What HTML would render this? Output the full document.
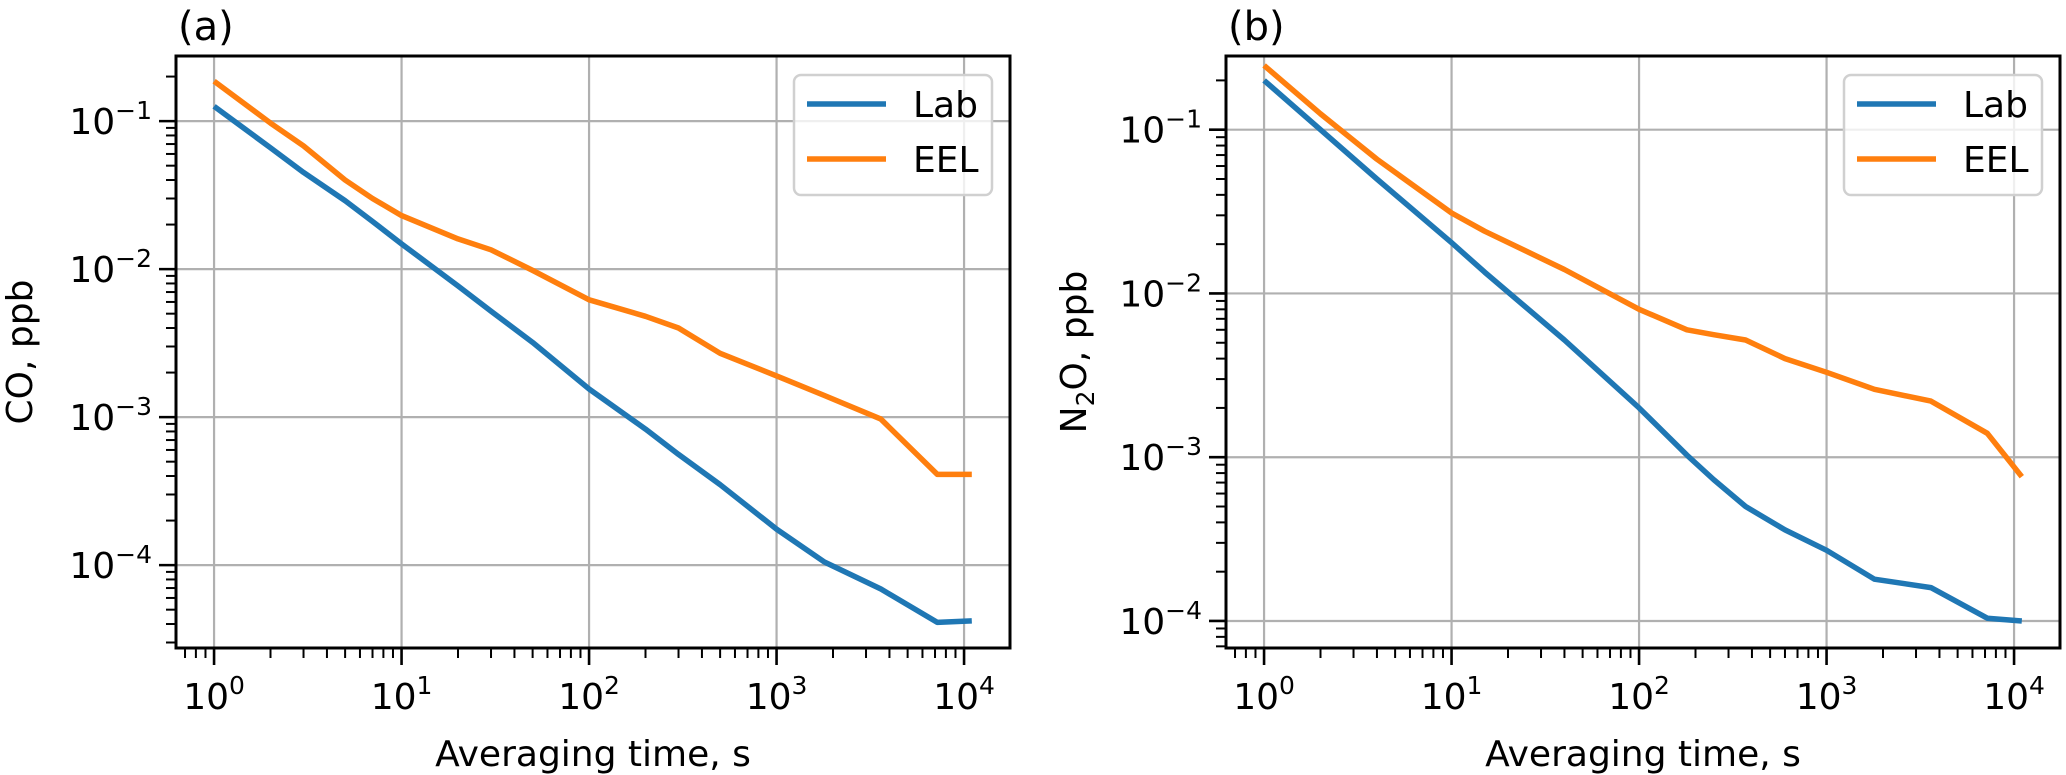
<!DOCTYPE html>
<html><head><meta charset="utf-8"><style>
html,body{margin:0;padding:0;background:#fff;}
svg{display:block;font-family:"DejaVu Sans","Liberation Sans",sans-serif;}
</style></head><body>
<svg id="fig" width="2066" height="775" viewBox="0 0 2066 775" xmlns="http://www.w3.org/2000/svg"></svg>
<script>
// Panel (a) CO data
const timesA = [1,2,3,5,7,10,20,30,50,100,200,300,500,1000,1800,3600,7200,11000];
const labA = [0.126,0.066,0.045,0.029,0.021,0.0148,0.0077,0.0052,0.0032,0.00155,0.00083,0.00056,0.00035,0.000175,0.000105,0.000069,0.000041,0.000042];
const eelA = [0.186,0.097,0.068,0.040,0.030,0.023,0.016,0.0135,0.0098,0.0062,0.0048,0.0040,0.0027,0.0019,0.0014,0.00097,0.00041,0.00041];
// Panel (b) N2O data
const timesB = [1,2,4,10,15,40,100,180,250,370,600,1000,1800,3600,7200,11000];
const labB = [0.2,0.1,0.05,0.0204,0.0135,0.0052,0.0020,0.00103,0.00073,0.00050,0.00036,0.00027,0.00018,0.00016,0.000104,0.0001];
const eelB = [0.247,0.125,0.066,0.031,0.024,0.014,0.0080,0.0060,0.0056,0.0052,0.0040,0.0033,0.0026,0.0022,0.0014,0.00076];
const xTickExps = [0,1,2,3,4];
const yTickExps = [-1,-2,-3,-4];
const seriesNames = ["Lab","EEL"];

const NS="http://www.w3.org/2000/svg";
const svg=document.getElementById('fig');
function mk(tag,attrs,parent){const e=document.createElementNS(NS,tag);for(const k in attrs)e.setAttribute(k,attrs[k]);(parent||svg).appendChild(e);return e;}

function panel(cfg){
  const g=mk('g',{});
  
  
  const L=cfg.left,R=cfg.right,T=56,B=648;
  const xs=v=>L+(Math.log10(v)-cfg.xmin)/(cfg.xmax-cfg.xmin)*(R-L);
  const ys=v=>T+(cfg.ymax-Math.log10(v))/(cfg.ymax-cfg.ymin)*(B-T);
  // grid
  xTickExps.forEach(e=>{const x=xs(Math.pow(10,e));
    const l=mk('line',{x1:x,x2:x,y1:T,y2:B,stroke:'#b0b0b0','stroke-width':2.2},g);
    
    });
  yTickExps.forEach(e=>{const y=ys(Math.pow(10,e));
    const l=mk('line',{x1:L,x2:R,y1:y,y2:y,stroke:'#b0b0b0','stroke-width':2.2},g);
    
    });
  // series
  const cols=['#1f77b4','#ff7f0e'];
  [cfg.lab,cfg.eel].forEach((arr,i)=>{
    const pts=cfg.times.map((t,j)=>xs(t).toFixed(1)+','+ys(arr[j]).toFixed(1)).join(' ');
    const p=mk('polyline',{points:pts,fill:'none',stroke:cols[i],'stroke-width':5.5,'stroke-linejoin':'round'},g);
    
    
  });
  // ticks
  for(let e=-1;e<=5;e++)for(let m=1;m<10;m++){const v=m*Math.pow(10,e);const lv=Math.log10(v);
    if(lv<cfg.xmin||lv>cfg.xmax)continue;const x=xs(v);
    mk('line',{x1:x,x2:x,y1:B,y2:B+(m==1?17:10),stroke:'#000','stroke-width':m==1?2.6:2},g);}
  for(let e=-6;e<=0;e++)for(let m=1;m<10;m++){const v=m*Math.pow(10,e);const lv=Math.log10(v);
    if(lv<cfg.ymin||lv>cfg.ymax)continue;const y=ys(v);
    mk('line',{x1:L,x2:L-(m==1?17:10),y1:y,y2:y,stroke:'#000','stroke-width':m==1?2.6:2},g);}
  // tick labels
  xTickExps.forEach(e=>{const t=mk('text',{x:xs(Math.pow(10,e)),y:709,'font-size':36,'text-anchor':'middle',fill:'#000'},g);
    
    
    t.innerHTML='10<tspan dy="-15" font-size="25">'+e+'</tspan>';});
  yTickExps.forEach(e=>{const t=mk('text',{x:L-24,y:ys(Math.pow(10,e))+13,'font-size':36,'text-anchor':'end',fill:'#000'},g);
    
    
    t.innerHTML='10<tspan dy="-15" font-size="25">−'+(-e)+'</tspan>';});
  // spines
  const s=mk('rect',{x:L,y:T,width:R-L,height:B-T,fill:'none',stroke:'#000','stroke-width':3},g);
  
  
  // axis labels
  const xl=mk('text',{x:(L+R)/2,y:766,'font-size':36,'text-anchor':'middle'},g);
  
  
  xl.textContent='Averaging time, s';
  const yl=mk('text',{x:0,y:0,'font-size':36,'text-anchor':'middle',transform:'translate('+cfg.ylx+',352) rotate(-90)'},g);
  
  
  yl.innerHTML=cfg.ylabel;
  const pl=mk('text',{x:L+2,y:40,'font-size':40},g);
  
  
  pl.textContent=cfg.tag;
  // legend
  const lx=cfg.legX;
  const lb=mk('rect',{x:lx,y:75,width:198,height:120,rx:7,fill:'#fff','fill-opacity':0.8,stroke:'#d0d0d0','stroke-width':2.5},g);
  
  
  seriesNames.forEach((n,i)=>{const y=104+i*55;
    const ln=mk('line',{x1:lx+13,x2:lx+92,y1:y,y2:y,stroke:cols[i],'stroke-width':5.5},g);
    
    
    const t=mk('text',{x:lx+119,y:y+13,'font-size':36},g);
    
    
    t.textContent=n;});
}
panel({name:'panel-a-co',left:176,right:1010,xmin:-0.203,xmax:4.245,ymin:-4.56,ymax:-0.56,
  times:timesA,lab:labA,eel:eelA,ylabel:'CO, ppb',ylx:32,tag:'(a)',legX:794});
panel({name:'panel-b-n2o',left:1226,right:2060,xmin:-0.203,xmax:4.245,ymin:-4.165,ymax:-0.55,
  times:timesB,lab:labB,eel:eelB,ylabel:'N<tspan font-size="25" dy="8">2</tspan><tspan dy="-8">O, ppb</tspan>',ylx:1086,tag:'(b)',legX:1844});
</script>
</body></html>
